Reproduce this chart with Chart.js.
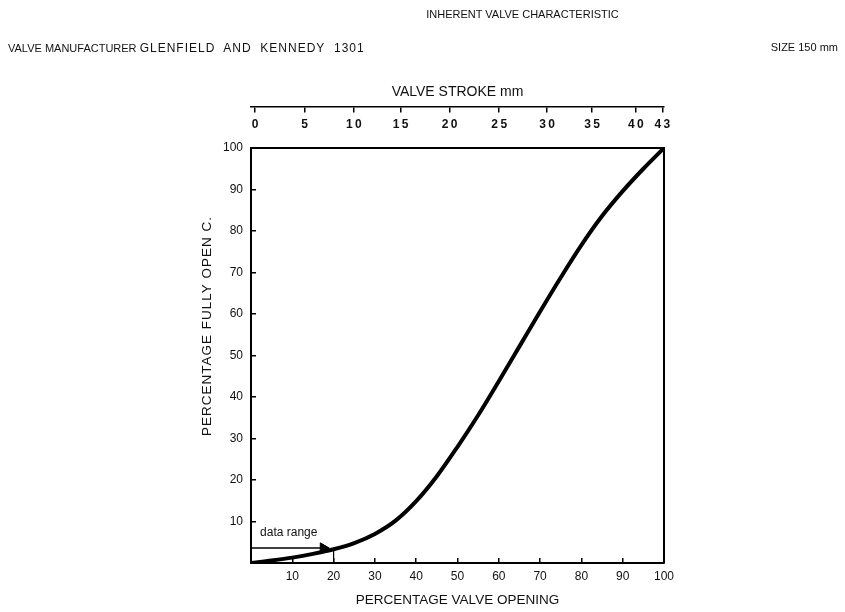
<!DOCTYPE html>
<html><head><meta charset="utf-8">
<script src="https://cdn.jsdelivr.net/npm/chart.js@4.4.0/dist/chart.umd.min.js"></script>
<style>
html,body{margin:0;padding:0;background:#fff;}
#wrap{position:relative;width:845px;height:612px;overflow:hidden;}
#c{position:absolute;left:0;top:0;}
.t{position:absolute;font-family:"Liberation Sans",Arial,sans-serif;color:#111;white-space:nowrap;line-height:1;}
</style></head><body>
<div id="wrap">
<canvas id="c" width="845" height="612"></canvas>
<div class="t" style="left:0;top:9px;width:845px;text-align:center;font-size:11px;padding-left:200px;box-sizing:border-box;">INHERENT VALVE CHARACTERISTIC</div>
<div class="t" style="left:8px;top:42px;font-size:11px;">VALVE MANUFACTURER <span style="font-size:12px;letter-spacing:1px;">GLENFIELD&nbsp; AND&nbsp; KENNEDY&nbsp; 1301</span></div>
<div class="t" style="right:7px;top:42px;font-size:11px;">SIZE 150 mm</div>
</div>
<script>
// ---- data ----
const openingPct = [0, 5, 10, 15, 20, 25, 30, 35, 40, 45, 50, 55, 60, 65, 70, 75, 80, 85, 90, 95, 100];
const flowPct    = [0, 0.6, 1.3, 2.2, 3.3, 4.8, 7.0, 10.2, 14.9, 20.9, 28.0, 35.6, 43.8, 52.2, 60.6, 68.8, 76.6, 83.6, 89.6, 95.0, 100];
const openingTicks = [10, 20, 30, 40, 50, 60, 70, 80, 90, 100];
const fullyOpenTicks = [10, 20, 30, 40, 50, 60, 70, 80, 90, 100];
const strokeLabels = ['0', '5', '10', '15', '20', '25', '30', '35', '40', '43'];
const strokeAtOpening = [1.0, 13.0, 24.9, 36.2, 48.1, 60.1, 71.7, 82.6, 93.2, 99.6];
const dataRange = [0, 20];
const dataRangeLevel = 3.6;

// ---- layout (style) ----
const FONT = '"Liberation Sans", Arial, sans-serif';
const PLOT = {left: 251, top: 148, right: 664, bottom: 563};
const W = 845, H = 612;

const framePlugin = {
  id: 'frame',
  beforeDatasetsDraw(chart) {
    const {ctx, chartArea: a} = chart;
    ctx.save();
    ctx.strokeStyle = '#000';
    ctx.lineWidth = 2;
    ctx.beginPath();
    ctx.moveTo(a.left, a.top);
    ctx.lineTo(a.right, a.top);
    ctx.lineTo(a.right, a.bottom);
    ctx.stroke();
    ctx.restore();
  },
  afterDraw(chart) {
    const {ctx, chartArea: a, scales} = chart;
    ctx.save();
    ctx.fillStyle = '#111';
    ctx.textBaseline = 'middle';
    // y axis title
    ctx.save();
    ctx.translate(207, 326);
    ctx.rotate(-Math.PI / 2);
    ctx.textAlign = 'center';
    ctx.font = '13.5px ' + FONT;
    if ('letterSpacing' in ctx) ctx.letterSpacing = '1px';
    ctx.fillText('PERCENTAGE FULLY OPEN C.', 0, 0);
    ctx.restore();
    // top axis title
    ctx.textAlign = 'center';
    ctx.font = '14px ' + FONT;
    ctx.fillText('VALVE STROKE mm', (a.left + a.right) / 2, scales.y.getPixelForValue(113.5));
    // data range label
    ctx.textAlign = 'left';
    ctx.font = '12px ' + FONT;
    ctx.fillText('data range', scales.x.getPixelForValue(2.2), scales.y.getPixelForValue(7.2));
    ctx.restore();
  }
};

new Chart(document.getElementById('c'), {
  type: 'line',
  data: {
    datasets: [
      {
        data: openingPct.map((x, i) => ({x, y: flowPct[i]})),
        xAxisID: 'x', yAxisID: 'y',
        borderColor: '#000', borderWidth: 4, pointRadius: 0,
        cubicInterpolationMode: 'monotone', fill: false
      },
      {
        data: [{x: dataRange[0], y: dataRangeLevel}, {x: dataRange[1] - 2.5, y: dataRangeLevel}],
        xAxisID: 'x', yAxisID: 'y',
        borderColor: '#000', borderWidth: 1.5,
        pointRadius: [0, 6], pointStyle: 'triangle', rotation: 90,
        pointBackgroundColor: '#000', pointBorderColor: '#000', pointBorderWidth: 1
      },
      {
        data: [{x: dataRange[1], y: 0}, {x: dataRange[1], y: 3.2}],
        xAxisID: 'x', yAxisID: 'y',
        borderColor: '#000', borderWidth: 1.2, pointRadius: 0
      }
    ]
  },
  options: {
    responsive: false, animation: false,
    layout: {padding: {left: 0, top: PLOT.top, right: W - PLOT.right, bottom: 0}},
    plugins: {legend: {display: false}, tooltip: {enabled: false}},
    scales: {
      x: {
        type: 'linear', position: 'bottom', min: 0, max: 100,
        afterBuildTicks: s => { s.ticks = openingTicks.map(v => ({value: v})); },
        afterFit: s => { s.height = H - PLOT.bottom; },
        ticks: {autoSkip: false, maxRotation: 0, padding: 11, color: '#111', font: {family: FONT, size: 12}},
        grid: {drawOnChartArea: false, tickLength: -5, color: '#000', lineWidth: 1.5},
        border: {display: true, color: '#000', width: 2},
        title: {display: true, text: 'PERCENTAGE VALVE OPENING', color: '#111', font: {family: FONT, size: 13.5}, padding: {top: 0, bottom: 4}}
      },
      y: {
        type: 'linear', position: 'left', min: 0, max: 100,
        afterBuildTicks: s => { s.ticks = fullyOpenTicks.map(v => ({value: v})); },
        afterFit: s => { s.width = PLOT.left; },
        ticks: {autoSkip: false, padding: 13, color: '#111', font: {family: FONT, size: 12}},
        grid: {drawOnChartArea: false, tickLength: -5, color: '#000', lineWidth: 1.5},
        border: {display: true, color: '#000', width: 2}
      },
      x2: {
        type: 'linear', position: {y: 110}, min: 0, max: 100,
        afterBuildTicks: s => { s.ticks = strokeAtOpening.map(v => ({value: v})); },
        ticks: {autoSkip: false, maxRotation: 0, padding: 6, color: '#111', font: {family: FONT, size: 12, weight: 'bold'},
                callback: (v, i) => strokeLabels[i].split('').join('\u2009')},
        grid: {drawOnChartArea: false, tickLength: 5, color: '#000', lineWidth: 1.5},
        border: {display: true, color: '#000', width: 1.5}
      }
    }
  },
  plugins: [framePlugin]
});
</script>
</body></html>
